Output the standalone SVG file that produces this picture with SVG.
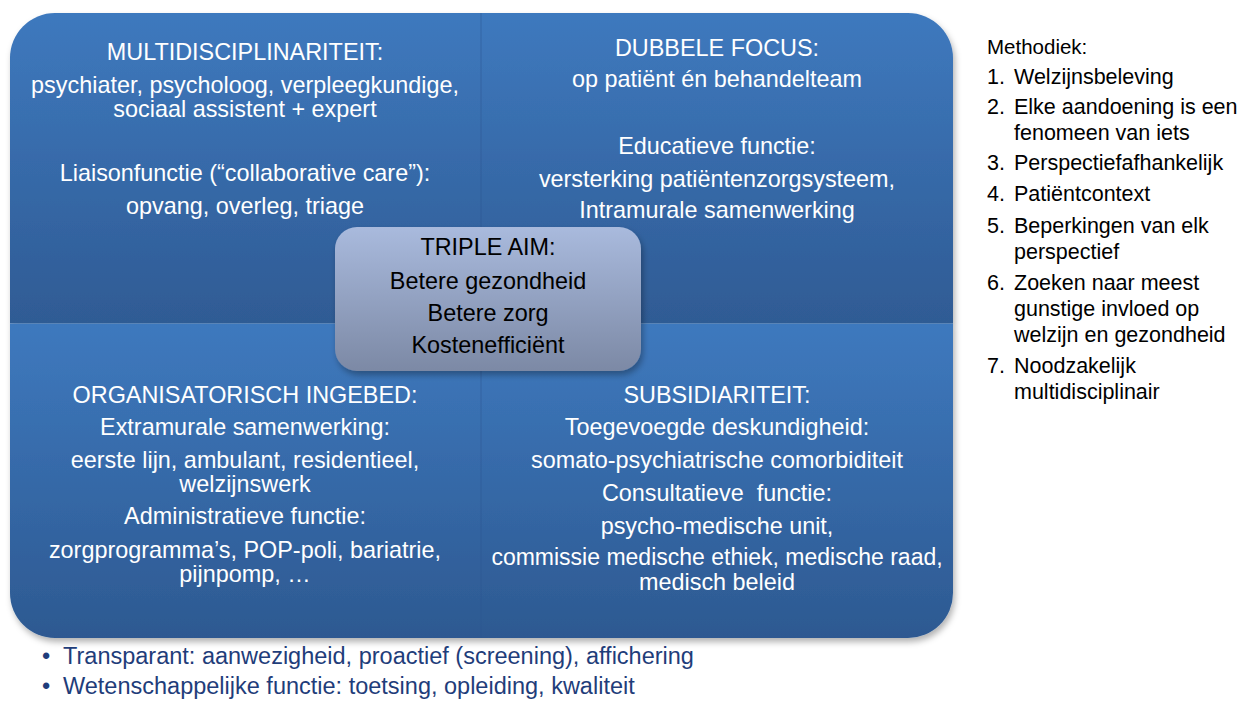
<svg xmlns="http://www.w3.org/2000/svg" width="1244" height="701" viewBox="0 0 1244 701">
<style>
.q{font-family:"Liberation Sans",Arial,sans-serif;font-size:23.4px;fill:#ffffff;text-anchor:middle}
.c{font-family:"Liberation Sans",Arial,sans-serif;font-size:23.4px;fill:#000000;text-anchor:middle}
.m{font-family:"Liberation Sans",Arial,sans-serif;font-size:21.5px;fill:#000000}
.b{font-family:"Liberation Sans",Arial,sans-serif;font-size:23.5px;fill:#1f3d7a}
</style>
<defs>
<linearGradient id="gTop" x1="0" y1="13" x2="0" y2="323" gradientUnits="userSpaceOnUse">
<stop offset="0" stop-color="#3e79be"/><stop offset="1" stop-color="#2f5b94"/>
</linearGradient>
<linearGradient id="gBot" x1="0" y1="324" x2="0" y2="638" gradientUnits="userSpaceOnUse">
<stop offset="0" stop-color="#3e79be"/><stop offset="1" stop-color="#2d5991"/>
</linearGradient>
<linearGradient id="gCen" x1="0" y1="0" x2="0" y2="1">
<stop offset="0" stop-color="#a9badd"/><stop offset="1" stop-color="#7c89a5"/>
</linearGradient>
<filter id="sh" x="-10%" y="-10%" width="120%" height="125%">
<feDropShadow dx="2" dy="4" stdDeviation="3" flood-color="#000" flood-opacity="0.3"/>
</filter>
</defs>
<g filter="url(#sh)">
<path d="M10,323.5 V58 A45,45 0 0 1 55,13 H481 V323.5 Z" fill="url(#gTop)"/>
<path d="M481,13 H908 A45,45 0 0 1 953,58 V323.5 H481 Z" fill="url(#gTop)"/>
<path d="M10,323.5 H481 V638 H55 A45,45 0 0 1 10,593 Z" fill="url(#gBot)"/>
<path d="M481,323.5 H953 V593 A45,45 0 0 1 908,638 H481 Z" fill="url(#gBot)"/>
</g>
<line x1="481" y1="13" x2="481" y2="638" stroke="#2c5690" stroke-opacity="0.5" stroke-width="1"/>
<g id="connectors"/>
<g id="multidisciplinariteit">
<text class="q" x="245" y="60">MULTIDISCIPLINARITEIT:</text>
<text class="q" x="245" y="93">psychiater, psycholoog, verpleegkundige,</text>
<text class="q" x="245" y="117">sociaal assistent + expert</text>
<text class="q" x="245" y="181">Liaisonfunctie (“collaborative care”):</text>
<text class="q" x="245" y="214">opvang, overleg, triage</text>
</g>
<g id="dubbele-focus">
<text class="q" x="717" y="56">DUBBELE FOCUS:</text>
<text class="q" x="717" y="87">op patiënt én behandelteam</text>
<text class="q" x="717" y="154">Educatieve functie:</text>
<text class="q" x="717" y="187">versterking patiëntenzorgsysteem,</text>
<text class="q" x="717" y="218">Intramurale samenwerking</text>
</g>
<g id="organisatorisch-ingebed">
<text class="q" x="245" y="403">ORGANISATORISCH INGEBED:</text>
<text class="q" x="245" y="435">Extramurale samenwerking:</text>
<text class="q" x="245" y="468">eerste lijn, ambulant, residentieel,</text>
<text class="q" x="245" y="492">welzijnswerk</text>
<text class="q" x="245" y="524">Administratieve functie:</text>
<text class="q" x="245" y="558">zorgprogramma’s, POP-poli, bariatrie,</text>
<text class="q" x="245" y="582">pijnpomp, …</text>
</g>
<g id="subsidiariteit">
<text class="q" x="717" y="403">SUBSIDIARITEIT:</text>
<text class="q" x="717" y="435">Toegevoegde deskundigheid:</text>
<text class="q" x="717" y="468">somato-psychiatrische comorbiditeit</text>
<text class="q" x="717" y="501" style="white-space:pre">Consultatieve  functie:</text>
<text class="q" x="717" y="534">psycho-medische unit,</text>
<text class="q" x="717" y="565" style="font-size:23px">commissie medische ethiek, medische raad,</text>
<text class="q" x="717" y="590">medisch beleid</text>
</g>
<g id="triple-aim">
<rect x="335" y="227" width="306" height="144" rx="22" ry="22" fill="url(#gCen)" filter="url(#sh)"/>
<text class="c" x="488" y="255">TRIPLE AIM:</text>
<text class="c" x="488" y="289">Betere gezondheid</text>
<text class="c" x="488" y="321">Betere zorg</text>
<text class="c" x="488" y="353">Kostenefficiënt</text>
</g>
<g id="methodiek">
<text class="m" x="987" y="54" style="font-size:20.5px">Methodiek:</text>
<text class="m" x="987" y="84">1.</text><text class="m" x="1014" y="84">Welzijnsbeleving</text>
<text class="m" x="987" y="114">2.</text><text class="m" x="1014" y="114">Elke aandoening is een</text>
<text class="m" x="1014" y="140">fenomeen van iets</text>
<text class="m" x="987" y="170">3.</text><text class="m" x="1014" y="170">Perspectiefafhankelijk</text>
<text class="m" x="987" y="201">4.</text><text class="m" x="1014" y="201">Patiëntcontext</text>
<text class="m" x="987" y="233">5.</text><text class="m" x="1014" y="233">Beperkingen van elk</text>
<text class="m" x="1014" y="259">perspectief</text>
<text class="m" x="987" y="290">6.</text><text class="m" x="1014" y="290">Zoeken naar meest</text>
<text class="m" x="1014" y="316">gunstige invloed op</text>
<text class="m" x="1014" y="342">welzijn en gezondheid</text>
<text class="m" x="987" y="373">7.</text><text class="m" x="1014" y="373">Noodzakelijk</text>
<text class="m" x="1014" y="399">multidisciplinair</text>
</g>
<g id="bullets">
<text class="b" x="42" y="664">•</text><text class="b" x="63" y="664">Transparant: aanwezigheid, proactief (screening), affichering</text>
<text class="b" x="42" y="694">•</text><text class="b" x="63" y="694">Wetenschappelijke functie: toetsing, opleiding, kwaliteit</text>
</g>
</svg>
